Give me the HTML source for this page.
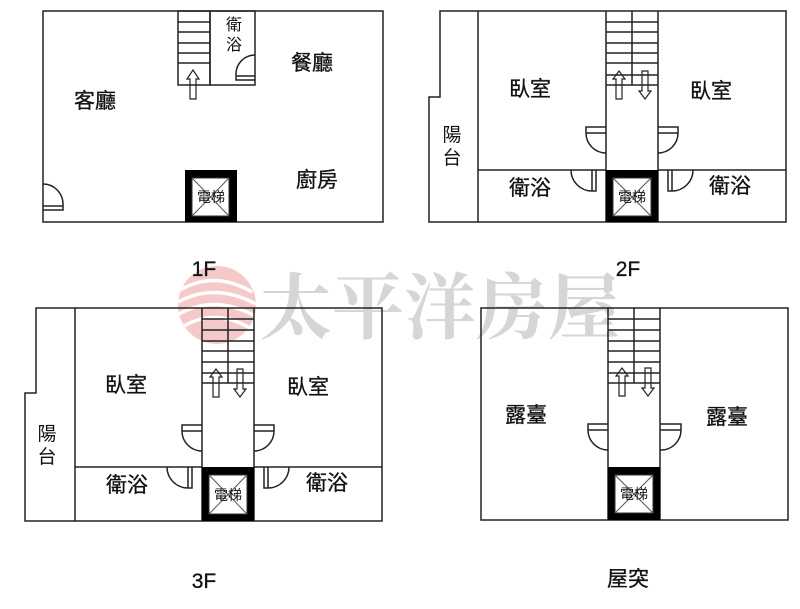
<!DOCTYPE html>
<html><head><meta charset="utf-8"><style>
body{margin:0;background:#fff}
svg{display:block}
text{font-family:"Liberation Sans","Noto Sans CJK TC",sans-serif;fill:#111}
</style></head><body>
<svg width="800" height="609" viewBox="0 0 800 609" xmlns="http://www.w3.org/2000/svg">
<!-- watermark -->
<g opacity="0.45">
<circle cx="217" cy="305" r="39" fill="#eb8a8a"/>
<g fill="none" stroke="#fff" stroke-width="3.5">
<path d="M180 290Q215 270 252 292"/><path d="M178 302Q215 282 256 304"/><path d="M179 314Q215 294 255 316"/><path d="M184 326Q215 308 250 328"/>
</g>
</g>
<text x="440" y="333" font-size="72" text-anchor="middle" font-weight="bold" style="font-family:'Noto Serif CJK SC',serif;fill:#bbb;opacity:0.6">太平洋房屋</text>
<g fill="none" stroke="#222" stroke-width="1.5">
<!-- 1F -->
<rect x="43" y="11" width="340" height="211"/>
<rect x="178" y="11" width="32" height="74"/>
<rect x="210" y="11" width="45" height="74"/>
<path d="M178 22H210M178 32H210M178 43H210M178 53H210M178 63H210"/>
<path d="M190 99V79H187L193 70L199 79H196V99Z" stroke-width="1.2"/>
<path d="M255 55A19 19 0 0 0 236 74V80H255"/><path d="M236 76H255"/>
<path d="M43 184A20 20 0 0 1 63 204V210H43"/><path d="M43 206H63"/>
<!-- 2F -->
<path d="M440 11H786V222H429V97H440Z"/>
<path d="M478 11V222M478 170H606M658 170H786"/>
<path d="M606 11V222M658 11V222M632 11V85"/>
<path d="M606 22H658M606 32H658M606 43H658M606 53H658M606 63H658M606 75H658M606 85H658"/>
<path d="M616 99V79H613L619 71L625 79H622V99Z" stroke-width="1.2"/>
<path d="M642 71V91H639L645 99L651 91H648V71Z" stroke-width="1.2"/>
<path d="M606 127H586V133A20 20 0 0 0 606 153"/><path d="M586 133H606"/>
<path d="M658 127H678V133A20 20 0 0 1 658 153"/><path d="M658 133H678"/>
<path d="M596 170V191H592V170M592 191A21 21 0 0 1 571 170"/>
<path d="M668 170V191H672V170M672 191A21 21 0 0 0 693 170"/>
<!-- 3F -->
<path d="M36 308H382V521H25V393H36Z"/>
<path d="M75 308V521M75 467H202M254 467H382"/>
<path d="M202 308V521M254 308V521M228 308V383"/>
<path d="M202 319H254M202 330H254M202 341H254M202 351H254M202 362H254M202 373H254M202 383H254"/>
<path d="M213 397V377H210L216 369L222 377H219V397Z" stroke-width="1.2"/>
<path d="M237 369V389H234L240 397L246 389H243V369Z" stroke-width="1.2"/>
<path d="M202 425H182V431A20 20 0 0 0 202 451"/><path d="M182 431H202"/>
<path d="M254 425H274V431A20 20 0 0 1 254 451"/><path d="M254 431H274"/>
<path d="M192 467V488H188V467M188 488A21 21 0 0 1 167 467"/>
<path d="M264 467V488H268V467M268 488A21 21 0 0 0 289 467"/>
<!-- RF -->
<rect x="481" y="308" width="307" height="212"/>
<path d="M608 308V520M660 308V520M634 308V383"/>
<path d="M608 319H660M608 330H660M608 341H660M608 351H660M608 362H660M608 373H660M608 383H660"/>
<path d="M619 396V376H616L622 368L628 376H625V396Z" stroke-width="1.2"/>
<path d="M645 368V388H642L648 396L654 388H651V368Z" stroke-width="1.2"/>
<path d="M608 424H588V430A20 20 0 0 0 608 450"/><path d="M588 430H608"/>
<path d="M660 424H681V430A20 20 0 0 1 660 450"/><path d="M660 430H681"/>
</g>
<!-- elevators -->
<g>
<rect x="185" y="170" width="52" height="52" fill="#000"/><rect x="192" y="178" width="37" height="38" fill="#fff" stroke="#333"/><path d="M192 178L229 216M229 178L192 216" stroke="#555"/>
<rect x="606" y="170" width="52" height="52" fill="#000"/><rect x="613" y="178" width="38" height="38" fill="#fff" stroke="#333"/><path d="M613 178L651 216M651 178L613 216" stroke="#555"/>
<rect x="202" y="467" width="52" height="54" fill="#000"/><rect x="209" y="475" width="38" height="39" fill="#fff" stroke="#333"/><path d="M209 475L247 514M247 475L209 514" stroke="#555"/>
<rect x="608" y="467" width="52" height="53" fill="#000"/><rect x="615" y="475" width="38" height="38" fill="#fff" stroke="#333"/><path d="M615 475L653 513M653 475L615 513" stroke="#555"/>
</g>
<g font-size="14" text-anchor="middle">
<text x="211" y="202">電梯</text><text x="632" y="202">電梯</text><text x="228" y="500">電梯</text><text x="634" y="499">電梯</text>
</g>
<g font-size="21" text-anchor="middle" style="stroke:#111;stroke-width:0.3">
<text x="95" y="108">客廳</text><text x="312" y="70">餐廳</text><text x="317" y="187">廚房</text>
<text x="530" y="96">臥室</text><text x="711" y="98">臥室</text><text x="530" y="195">衛浴</text><text x="730" y="193">衛浴</text>
<text x="126" y="392">臥室</text><text x="308" y="394">臥室</text><text x="127" y="492">衛浴</text><text x="327" y="490">衛浴</text>
<text x="526" y="422">露臺</text><text x="727" y="424">露臺</text>
<text x="204" y="276">1F</text><text x="628" y="276">2F</text><text x="204" y="588">3F</text><text x="628" y="586">屋突</text>
</g>
<g font-size="16" text-anchor="middle">
<text x="234" y="30">衛</text><text x="234" y="50">浴</text>
</g>
<g font-size="19" text-anchor="middle">
<text x="452" y="141">陽</text><text x="452" y="164">台</text>
<text x="47" y="440">陽</text><text x="47" y="463">台</text>
</g>
</svg>
</body></html>
